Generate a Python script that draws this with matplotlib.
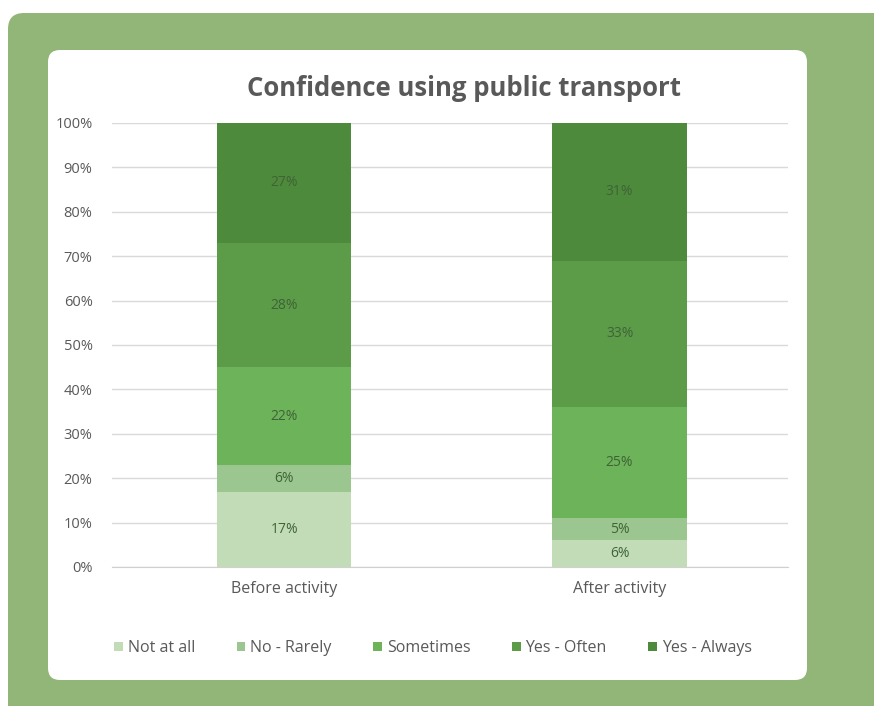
import matplotlib
matplotlib.use("Agg")
import matplotlib.pyplot as plt
from matplotlib.patches import FancyBboxPatch, Patch
from matplotlib.transforms import IdentityTransform

W, H = 874, 706
DPI = 100

categories = ["Before activity", "After activity"]
series_names = ["Not at all", "No - Rarely", "Sometimes", "Yes - Often", "Yes - Always"]
not_at_all = [17, 6]
no_rarely = [6, 5]
sometimes = [22, 25]
yes_often = [28, 33]
yes_always = [27, 31]
series_values = [not_at_all, no_rarely, sometimes, yes_often, yes_always]
series_colors = ["#c2dcb8", "#9cc68f", "#6cb35a", "#5c9c48", "#4e8a3c"]
yticks = [0, 10, 20, 30, 40, 50, 60, 70, 80, 90, 100]
ytick_labels = [f"{v}%" for v in yticks]

plt.rcParams["font.family"] = ["Open Sans", "DejaVu Sans"]

fig = plt.figure(figsize=(W / DPI, H / DPI), dpi=DPI)
fig.patch.set_facecolor("white")

def px(x, y):
    """Pixel position measured from the top-left corner -> display coords."""
    return x, H - y

# green card behind the chart
gx, gy = px(8, 800)
green = FancyBboxPatch((gx, gy), 1000, 800 - 13, boxstyle="round,pad=0,rounding_size=16",
                       transform=IdentityTransform(), facecolor="#92b677", edgecolor="none",
                       zorder=-10)
fig.patches.append(green)

# white rounded panel holding the chart
wx, wy = px(48, 680)
panel = FancyBboxPatch((wx, wy), 807 - 48, 680 - 50, boxstyle="round,pad=0,rounding_size=12",
                       transform=IdentityTransform(), facecolor="white", edgecolor="none",
                       zorder=-9)
fig.patches.append(panel)

left, right, top, bottom = 112, 788, 123, 567
ax = fig.add_axes([left / W, 1 - bottom / H, (right - left) / W, (bottom - top) / H])
ax.set_facecolor("none")

x = range(len(categories))
base = [0] * len(categories)
for name, vals, col in zip(series_names, series_values, series_colors):
    bars = ax.bar(x, vals, width=0.4, bottom=base, color=col, label=name, zorder=3)
    for rect, v in zip(bars, vals):
        ax.text(rect.get_x() + rect.get_width() / 2, rect.get_y() + rect.get_height() / 2,
                f"{v}%", ha="center", va="center", fontsize=10, color="#3f6336", zorder=4)
    base = [b + v for b, v in zip(base, vals)]

ax.set_xlim(-0.513, 1.502)
ax.set_ylim(0, 100)
ax.set_yticks(yticks)
ax.set_yticklabels(ytick_labels)
ax.set_xticks(list(x))
ax.set_xticklabels(categories)
ax.tick_params(axis="y", length=0, pad=14, labelsize=10.5, labelcolor="#595959")
ax.tick_params(axis="x", length=0, pad=10, labelsize=11.5, labelcolor="#595959")
ax.grid(axis="y", color="#d9d9d9", linewidth=1, zorder=0)
for s in ["top", "right", "left"]:
    ax.spines[s].set_visible(False)
ax.spines["bottom"].set_color("#d0d0d0")

fig.text(464 / W, 1 - 88 / H, "Confidence using public transport", ha="center", va="center",
         fontsize=18.5, fontweight="bold", color="#595959")

handles = [Patch(facecolor=c, edgecolor="none") for c in series_colors]
fig.legend(handles, series_names, loc="center", bbox_to_anchor=(433 / W, 1 - 648 / H),
           ncol=5, frameon=False, fontsize=11.5, labelcolor="#595959",
           handlelength=0.55, handleheight=0.55, handletextpad=0.3, columnspacing=2.6)

fig.savefig("out.png", dpi=DPI)
